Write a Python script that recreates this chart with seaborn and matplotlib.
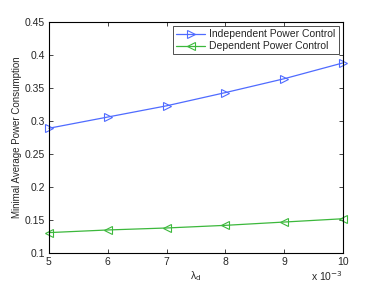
import matplotlib
matplotlib.use("Agg")
import matplotlib.pyplot as plt
import seaborn as sns

lam = [5, 6, 7, 8, 9, 10]
indep = [0.289, 0.306, 0.323, 0.343, 0.364, 0.388]
dep = [0.131, 0.135, 0.138, 0.142, 0.147, 0.152]
labels = ["Independent Power Control", "Dependent Power Control"]
colors = ["#4f6bff", "#3cb83c"]
marks = [">", "<"]

sns.set_style("white")
plt.rcParams['font.family'] = ['Liberation Sans', 'DejaVu Sans']

fig = plt.figure(figsize=(3.79, 2.85), dpi=100)
ax = fig.add_axes([0.129, 0.112, 0.776, 0.811])

for ys, lab, c, m in zip([indep, dep], labels, colors, marks):
    sns.lineplot(x=lam, y=ys, color=c, marker=m, markerfacecolor="none",
                 markeredgecolor=c, markersize=5.5, markeredgewidth=0.8,
                 linewidth=0.9, label=lab, clip_on=False, ax=ax)

ax.set_xlim(5, 10)
ax.set_ylim(0.1, 0.45)
ax.set_xticks(lam)
ax.set_yticks([0.1, 0.15, 0.2, 0.25, 0.3, 0.35, 0.4, 0.45])
ax.set_yticklabels(["0.1", "0.15", "0.2", "0.25", "0.3", "0.35", "0.4", "0.45"])
ax.tick_params(direction="in", length=3, width=0.6, labelsize=7.5, top=True, right=True,
               bottom=True, left=True, pad=3)
for s in ax.spines.values():
    s.set_linewidth(0.8)
    s.set_color("black")

ax.set_xlabel("λ$_\\mathrm{d}$", fontsize=7.5, labelpad=1)
ax.xaxis.set_label_coords(0.5, -0.07)
ax.set_ylabel("Minimal Average Power Consumption", fontsize=7, labelpad=2)
ax.text(1.0, -0.07, r"x 10$^{-3}$", transform=ax.transAxes, fontsize=7.5, ha="right", va="top")

leg = ax.legend(loc="upper right", fontsize=7.5, frameon=True, fancybox=False,
                borderpad=0.3, labelspacing=0.2, handlelength=2.8, handletextpad=0.4,
                borderaxespad=0.4)
leg.get_frame().set_edgecolor("black")
leg.get_frame().set_linewidth(0.6)

fig.savefig("out.png", dpi=100)
